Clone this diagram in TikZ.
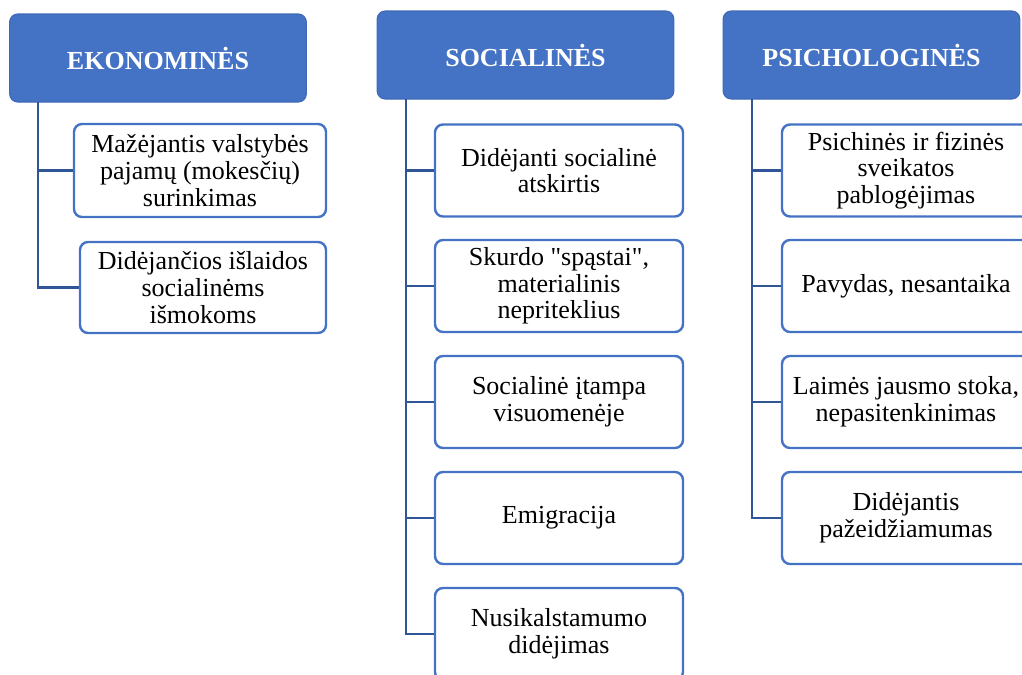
\documentclass[tikz,border=0pt]{standalone}
\usepackage{fontspec}
\setmainfont{Liberation Serif}[Ligatures=TeXOff]
\definecolor{hdrfill}{HTML}{4472C4}
\definecolor{hdrline}{HTML}{3F69B8}
\definecolor{boxline}{HTML}{4472C4}
\definecolor{linkcol}{HTML}{2F5597}
\begin{document}
\begin{tikzpicture}[x=0.75pt,y=-0.75pt,
  hdr/.style={draw=hdrline, fill=hdrfill, rounded corners=6pt, line width=0.8pt,
    minimum width=222.5pt, minimum height=66pt, inner sep=0pt, text=white,
    font=\fontsize{19.5}{21}\selectfont\bfseries},
  item/.style={draw=boxline, fill=white, rounded corners=6pt, line width=1.8pt,
    minimum width=186pt, minimum height=69pt, inner sep=0pt, align=center,
    font=\fontsize{19.5}{20}\selectfont},
  link/.style={draw=linkcol, line width=2.2pt}]
\useasboundingbox (0,0) rectangle (1022,675);
\clip (0,0) rectangle (1022,675);

% headers
\node[hdr] (h1) at (158,58) {EKONOMINĖS};
\node[hdr] (h2) at (525.5,55) {SOCIALINĖS};
\node[hdr] (h3) at (871.5,55) {PSICHOLOGINĖS};

% column 1
\node[item, minimum width=189pt, minimum height=69.75pt] (a1) at (200,170.5)
  {Mažėjantis valstybės\\pajamų (mokesčių)\\surinkimas};
\node[item, minimum width=184.5pt, minimum height=68.25pt] (a2) at (203,287.5)
  {Didėjančios išlaidos\\socialinėms\\išmokoms};

% column 2
\node[item] (b1) at (559,170.5) {Didėjanti socialinė\\atskirtis};
\node[item] (b2) at (559,286) {Skurdo "spąstai",\\materialinis\\nepriteklius};
\node[item] (b3) at (559,402) {Socialinė įtampa\\visuomenėje};
\node[item] (b4) at (559,518) {Emigracija};
\node[item] (b5) at (559,634) {Nusikalstamumo\\didėjimas};

% column 3
\node[item] (c1) at (906,170.5) {Psichinės ir fizinės\\sveikatos\\pablogėjimas};
\node[item] (c2) at (906,286) {Pavydas, nesantaika};
\node[item] (c3) at (906,402) {Laimės jausmo stoka,\\nepasitenkinimas};
\node[item] (c4) at (906,518) {Didėjantis\\pažeidžiamumas};

% connectors
\coordinate (v1) at (38,102);
\coordinate (v2) at (406,99);
\coordinate (v3) at (752,99);
\draw[link] (v1) |- (a1.west);
\draw[link] (v1) |- (a2.west);
\foreach \n in {b1,b2,b3,b4,b5} \draw[link] (v2) |- (\n.west);
\foreach \n in {c1,c2,c3,c4} \draw[link] (v3) |- (\n.west);
\end{tikzpicture}
\end{document}
